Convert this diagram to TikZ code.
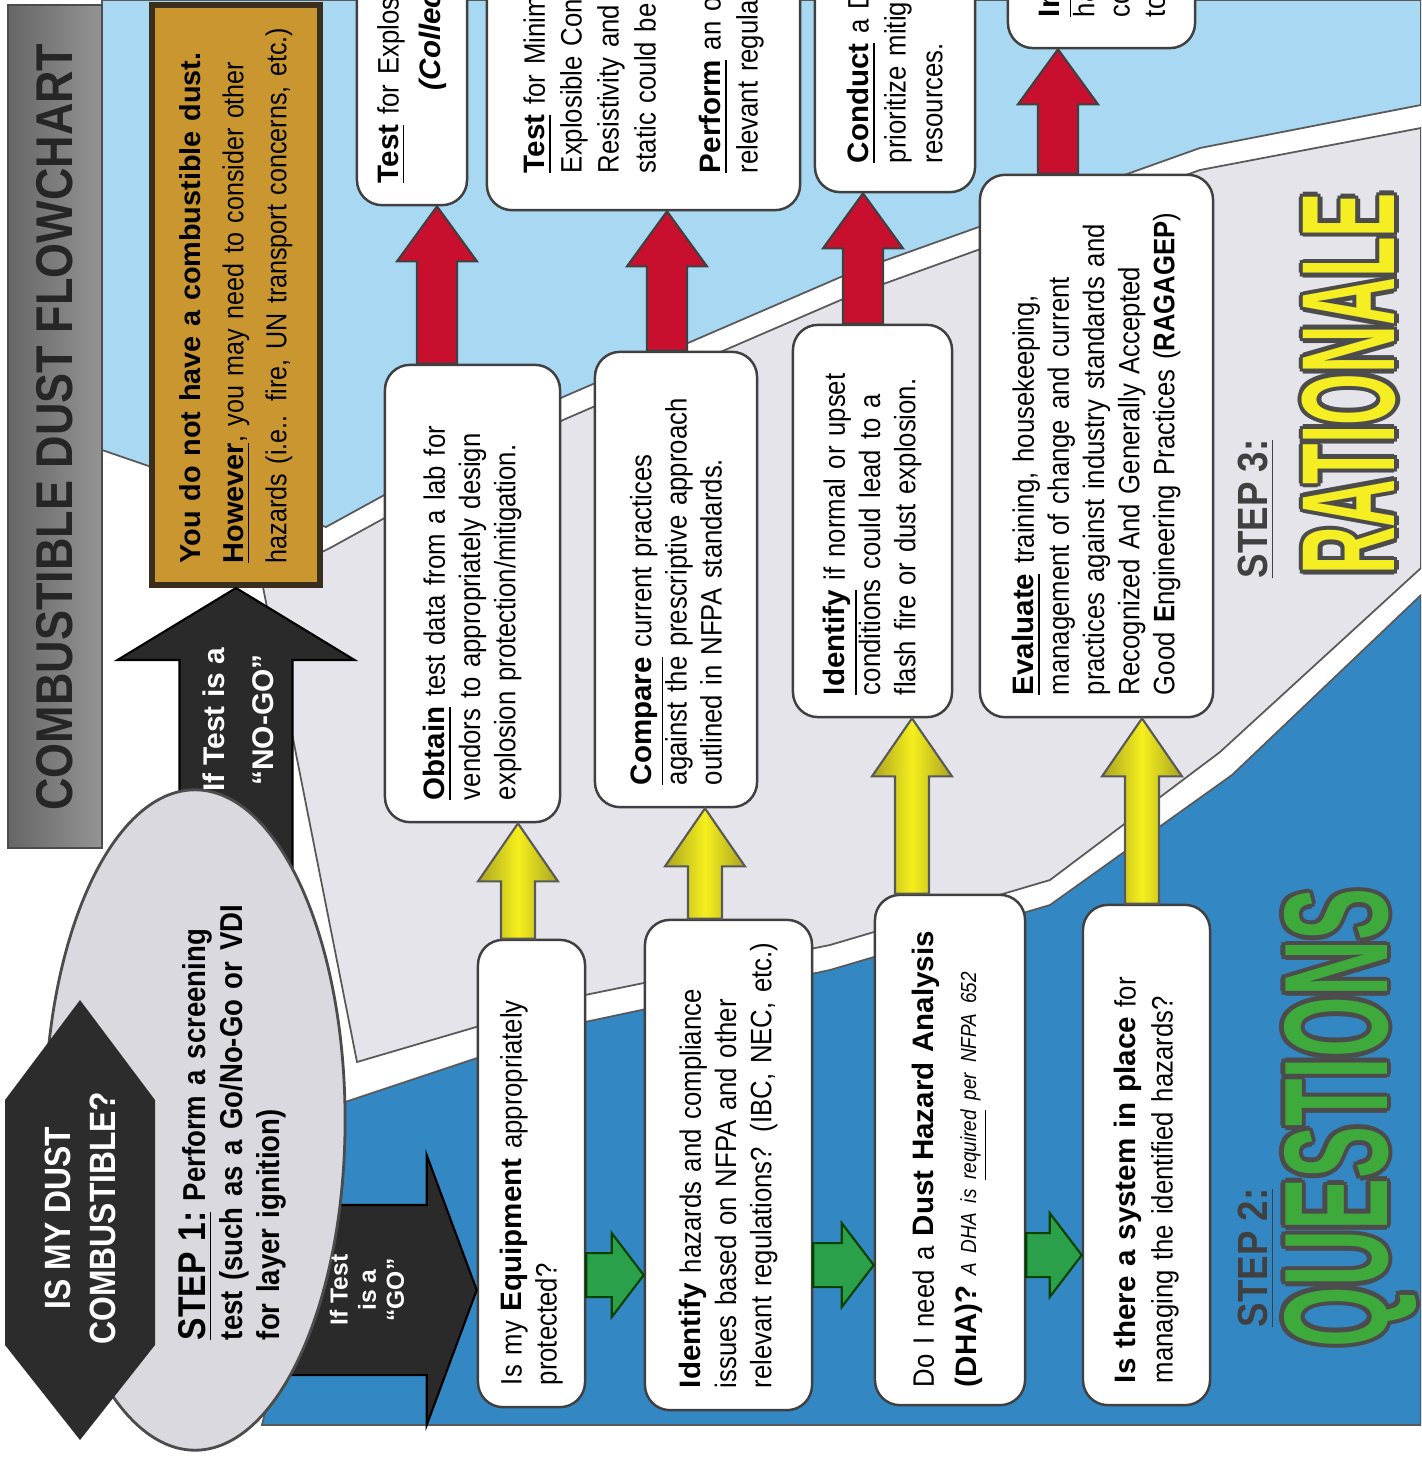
\documentclass[tikz,border=0pt]{standalone}
\usepackage{fontspec}
\setmainfont{Liberation Sans}[FakeStretch=0.87]
\newfontfamily\heavysf{Liberation Sans}
\usepackage{graphicx}
\usepackage{tikz}
\usetikzlibrary{calc,shapes.geometric}
\definecolor{SkyFill}{HTML}{A8D8F2}
\definecolor{GreyFill}{HTML}{E4E4EA}
\definecolor{DeepFill}{HTML}{3388C4}
\definecolor{GoldFill}{HTML}{C9962F}
\definecolor{GoldEdge}{HTML}{3A2E1E}
\definecolor{RedArrow}{HTML}{C8102E}
\definecolor{GreenArrow}{HTML}{2BA04B}
\definecolor{YellowArrow}{HTML}{F5EF1E}
\definecolor{YellowEdge}{HTML}{A9A321}
\definecolor{ArrowBlack}{HTML}{2A2A2A}
\definecolor{EllFill}{HTML}{D9D9DF}
\definecolor{HexFill}{HTML}{2C2C2C}
\definecolor{QGreen}{HTML}{3FAA3C}
\definecolor{RYellow}{HTML}{F5EE22}

\newcommand{\hv}[1]{{\heavysf\bfseries #1}}
% block arrow: style, tail, tip, half shaft, half head, head length
\newcommand{\blockarrow}[6]{%
  \path #2 coordinate (ba-s) #3 coordinate (ba-t);
  \coordinate (ba-h) at ($(ba-t)!#6!(ba-s)$);
  \filldraw[#1] ($(ba-s)!#4!90:(ba-t)$) -- ($(ba-h)!#4!-90:(ba-s)$)
    -- ($(ba-h)!#5!-90:(ba-s)$) -- (ba-t) -- ($(ba-h)!#5!90:(ba-s)$)
    -- ($(ba-h)!#4!90:(ba-s)$) -- ($(ba-s)!#4!-90:(ba-t)$) -- cycle;}

\begin{document}
\begin{tikzpicture}[x=0.01cm, y=-0.01cm,
  card/.style={draw=black!75, line width=0.7pt, fill=white, rounded corners=0.25cm,
    rotate=90, align=left, inner xsep=0.22cm, inner ysep=2pt, font=\fontsize{8.4}{10}\selectfont},
  region/.style={draw=black!65, line width=0.5pt},
  redarr/.style={fill=RedArrow, draw=black!75, line width=0.6pt},
  yelarr/.style={left color=YellowEdge, right color=YellowEdge, middle color=YellowArrow, draw=black!65, line width=0.6pt},
  grnarr/.style={fill=GreenArrow, draw=green!25!black, line width=0.6pt},
  blkarr/.style={fill=ArrowBlack, draw=black, line width=0.6pt},
  steplabel/.style={rotate=90, text=black!75, font=\fontsize{12}{12}\selectfont\bfseries},
  bigword/.style={rotate=90, inner sep=0pt, font=\fontsize{42}{42}\selectfont\heavysf\bfseries}]
  \useasboundingbox (0,0) rectangle (1421,1458);
  \clip (0,0) rectangle (1421,1458);
  \fill[white] (0,0) rectangle (1421,1458);

  % Background bands
  \filldraw[region, fill=SkyFill] (102,0) -- (1421,0) -- (1421,105) -- (1200,148) -- (850,273)
    -- (563,397) -- (326,527) -- (102,450) -- cycle;
  \filldraw[region, fill=GreyFill] (262,582) -- (330,548) -- (563,420) -- (850,296) -- (1200,170)
    -- (1421,128) -- (1421,568) -- (1220,752) -- (1050,880) -- (830,945) -- (585,995) -- (357,1062) -- cycle;
  \filldraw[region, fill=DeepFill] (342,1103) -- (585,1022) -- (830,970) -- (1050,905) -- (1232,775)
    -- (1421,595) -- (1421,1425) -- (262,1425) -- cycle;

  % Title bar
  \shade[left color=black!60, middle color=black!5, right color=black!42] (8,5) rectangle (102,848);
  \draw[black!70] (8,5) rectangle (102,848);
  \node[rotate=90, text=black!85, font=\fontsize{14.7}{15}\selectfont\bfseries] (title) at (55,427) {COMBUSTIBLE DUST FLOWCHART};

  % No-go result
  \node[rotate=90, draw=GoldEdge, line width=1.6pt, fill=GoldFill, align=left, text width=5.36cm,
    inner xsep=0.22cm, minimum height=1.68cm, font=\fontsize{8.2}{12.2}\selectfont] (gold) at (236,295)
    {\hv{You do not have a combustible dust.}\\ \hv{\underline{However}}, you may need to consider other\\
     hazards (i.e.. fire, UN transport concerns, etc.)};

  % Top row (cut by the page edge)
  \node[card, text width=4.61cm, minimum height=1.10cm] (test) at (412,-47.5)
    {\hv{\underline{Test}} for Explosibility\\[2pt] \hspace*{0.93cm}{\heavysf\bfseries\itshape (Collected}};
  \node[card, text width=4.36cm, inner xsep=0.37cm, minimum height=3.13cm, font=\fontsize{8.4}{10.5}\selectfont] (testmie) at (643.5,-45)
    {\hv{\underline{Test}} for Minimum Ignition\\Explosible Concentration\\Resistivity and Ignition\\static could be an issue\\[8pt]
     \hv{\underline{Perform}} an overall review\\relevant regulations};
  \node[card, text width=4.34cm, inner xsep=0.29cm, minimum height=1.60cm, font=\fontsize{8.4}{10.5}\selectfont] (conduct) at (895,-54)
    {\hv{\underline{Conduct}} a DHA to\\prioritize mitigation\\resources.};
  \node[card, text width=2.86cm, inner xsep=0.31cm, minimum height=1.87cm] (implem) at (1101.5,-126)
    {\hv{\underline{Implement}}\\hazard\\controls\\to};

  % Step 3 boxes
  \node[card, text width=4.13cm, minimum height=1.75cm] (obtain) at (472.5,593.5)
    {\hv{\underline{Obtain}} test data from a lab for\\vendors to appropriately design\\explosion protection/mitigation.};
  \node[card, text width=4.11cm, minimum height=1.62cm] (compare) at (676,579.5)
    {\hv{\underline{Compare}} current practices\\against the prescriptive approach\\outlined in NFPA standards.};
  \node[card, text width=3.48cm, minimum height=1.59cm] (ident) at (872.5,521)
    {\hv{\underline{Identify}} if normal or upset\\conditions could lead to a\\flash fire or dust explosion.};
  \node[card, text width=4.98cm, minimum height=2.33cm] (evalu) at (1096.5,446)
    {\hv{\underline{Evaluate}} training, housekeeping,\\management of change and current\\practices against industry standards and\\
     Recognized And Generally Accepted\\Good \textbf{E}ngineering Practices (\textbf{RAGAGEP})};

  % Step 2 boxes
  \node[card, text width=4.23cm, minimum height=1.07cm] (equip) at (531.5,1173.5)
    {Is my \hv{Equipment} appropriately\\protected?};
  \node[card, text width=4.46cm, minimum height=1.67cm] (idhaz) at (728.5,1165)
    {\hv{Identify} hazards and compliance\\issues based on NFPA and other\\relevant regulations? (IBC, NEC, etc.)};
  \node[card, text width=4.74cm, inner xsep=0.18cm, minimum height=1.50cm, font=\fontsize{8.4}{12}\selectfont] (dha) at (950,1150)
    {Do I need a \hv{Dust Hazard Analysis}\\\hv{(DHA)?} {\fontsize{6.2}{8}\selectfont\itshape A DHA is \underline{required} per NFPA 652}};
  \node[card, text width=4.56cm, minimum height=1.27cm, font=\fontsize{8.4}{10.5}\selectfont] (system) at (1146.5,1155)
    {\hv{Is there a system in place} for\\managing the identified hazards?};

  % Red arrows: step 3 -> actions
  \foreach \src/\dst/\dx in {obtain/test/-0.355, compare/testmie/-0.09, ident/conduct/-0.095, evalu/implem/-0.385} {
    \coordinate (ra) at ([xshift=\dx cm]\src.east);
    \coordinate (rb) at (ra |- \dst.west);
    \blockarrow{redarr}{(ra)}{(rb)}{0.2cm}{0.4cm}{0.55cm}
  }
  % Yellow arrows: questions -> rationale
  \foreach \src/\dst/\dx in {equip/obtain/-0.135, idhaz/compare/-0.235, dha/ident/-0.38, system/evalu/-0.045} {
    \coordinate (ya) at ([xshift=\dx cm]\src.east);
    \coordinate (yb) at (ya |- \dst.west);
    \blockarrow{yelarr}{(ya)}{(yb)}{0.17cm}{0.4cm}{0.58cm}
  }
  % Green arrows between questions
  \foreach \src/\dst/\dy in {equip/idhaz/-1.015, idhaz/dha/-1.0, dha/system/-1.05} {
    \coordinate (ga) at ([yshift=\dy cm]\src.south);
    \coordinate (gb) at (ga -| \dst.north);
    \blockarrow{grnarr}{(ga)}{(gb)}{0.22cm}{0.42cm}{0.32cm}
  }

  % Go / No-go arrows
  \coordinate (stepc) at (195,1120);
  \coordinate (nogo) at (gold.west |- stepc);
  \blockarrow{blkarr}{(nogo)}{(gold.west)}{0.565cm}{1.185cm}{0.72cm}
  \coordinate (gotip) at ([yshift=-1.165cm]equip.north);
  \coordinate (gotail) at (stepc |- gotip);
  \blockarrow{blkarr}{(gotail)}{(gotip)}{0.85cm}{1.35cm}{0.5cm}

  % Step 1
  \node[ellipse, draw=black!70, line width=0.8pt, fill=EllFill, minimum width=3cm, minimum height=6.6cm, inner sep=0pt] (stepell) at (stepc) {};
  \fill[HexFill] (80,1000) -- (155,1100) -- (155,1345) -- (80,1440) -- (5,1345) -- (5,1100) -- cycle;
  \node[rotate=90, align=center, text=white, font=\fontsize{10.4}{12.8}\selectfont\bfseries] (hexq) at (80,1218) {IS MY DUST\\COMBUSTIBLE?};
  \node[rotate=90, align=left, text width=4.45cm, inner sep=0pt, font=\fontsize{9}{10.5}\selectfont\bfseries] (step1) at (232,1117.5)
    {{\fontsize{11}{10.5}\selectfont\underline{STEP 1:}} Perform a screening\\test (such as a Go/No-Go or VDI\\for layer ignition)};
  \node[rotate=90, align=center, text=white, font=\fontsize{8.5}{14}\selectfont\heavysf\bfseries] (nogotxt) at (238,720) {If Test is a\\“NO-GO”};
  \node[rotate=90, align=center, text=white, font=\fontsize{7}{8}\selectfont\heavysf\bfseries] (gotxt) at (367,1290) {If Test\\is a\\“GO”};

  % Step titles
  \node[steplabel] (step2) at (1256,1258) {\underline{STEP 2:}};
  \node[steplabel] (step3) at (1256,509) {\underline{STEP 3:}};
  \foreach \a in {0,45,...,315} {
    \node[bigword, text=black!70, shift={(\a:1.3pt)}] (qe\a) at (1350,1118) {\scalebox{0.527}[1]{QUESTIONS}};
    \node[bigword, text=black!70, font=\fontsize{37.7}{38}\selectfont\heavysf\bfseries, shift={(\a:1.3pt)}] (re\a) at (1349,384) {\scalebox{0.5}[1]{RATIONALE}};
  }
  \node[bigword, text=QGreen] (questions) at (1350,1118) {\scalebox{0.527}[1]{QUESTIONS}};
  \node[bigword, text=RYellow, font=\fontsize{37.7}{38}\selectfont\heavysf\bfseries] (rationale) at (1349,384) {\scalebox{0.5}[1]{RATIONALE}};
\end{tikzpicture}
\end{document}
